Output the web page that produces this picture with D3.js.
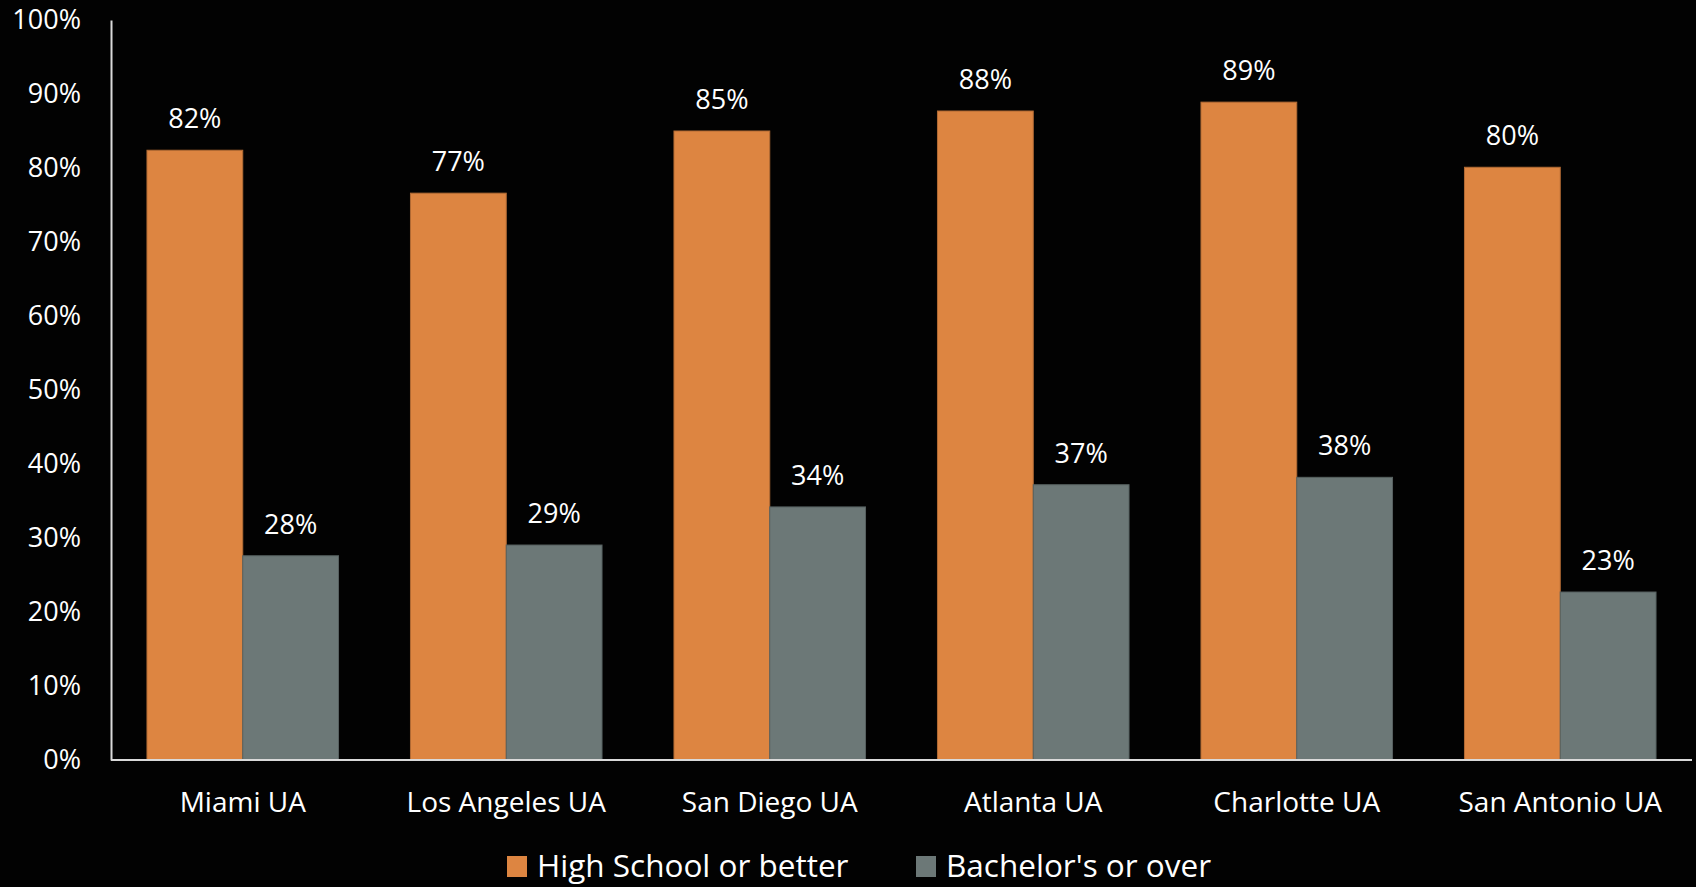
<!DOCTYPE html>
<html>
<head>
<meta charset="utf-8">
<style>
  body { margin: 0; background: #020202; }
  svg { display: block; font-family: "Open Sans", sans-serif; }
  .axis path { stroke: #d9d9d9; stroke-width: 2; }
  .axis line { display: none; }
  .axis text { fill: #fff; font-size: 27px; font-family: "Open Sans", sans-serif; }
  .xaxis text { font-size: 28px; }
</style>
</head>
<body>
<script src="https://d3js.org/d3.v7.min.js"></script>
<script>
// chart data
var cities = ["Miami UA", "Los Angeles UA", "San Diego UA", "Atlanta UA", "Charlotte UA", "San Antonio UA"];
var seriesNames = ["High School or better", "Bachelor's or over"];
var highSchool = [82.4, 76.6, 85.0, 87.7, 88.9, 80.1];
var bachelors = [27.6, 29.05, 34.2, 37.2, 38.2, 22.7];
var yTicks = [0, 10, 20, 30, 40, 50, 60, 70, 80, 90, 100];
var colors = ["#dd8541", "#6c7877"];

var W = 1696, H = 887;
var margin = {top: 20, right: 4, bottom: 127, left: 111};

var svg = d3.select("body").append("svg")
    .attr("width", W)
    .attr("height", H);

svg.append("rect").attr("width", W).attr("height", H).attr("fill", "#020202");

var x0 = d3.scaleBand()
    .domain(cities)
    .range([margin.left, W - margin.right])
    .paddingInner(0.273)
    .paddingOuter(0.1365);

var x1 = d3.scaleBand()
    .domain(seriesNames)
    .range([0, x0.bandwidth()]);

var y = d3.scaleLinear()
    .domain([0, 100])
    .range([H - margin.bottom, margin.top]);

var rows = cities.map(function(c, i) {
  return {city: c, values: [highSchool[i], bachelors[i]]};
});

// bars
var groups = svg.selectAll("g.city")
    .data(rows)
    .enter().append("g")
    .attr("class", "city")
    .attr("transform", function(d) { return "translate(" + x0(d.city) + ",0)"; });

groups.selectAll("rect")
    .data(function(d) { return d.values.map(function(v, k) { return {k: k, v: v}; }); })
    .enter().append("rect")
    .attr("x", function(d) { return x1(seriesNames[d.k]); })
    .attr("y", function(d) { return y(d.v); })
    .attr("width", x1.bandwidth())
    .attr("height", function(d) { return y(0) - y(d.v); })
    .attr("fill", function(d) { return colors[d.k]; })
    .attr("stroke", function(d) { return d3.color(colors[d.k]).darker(0.6); })
    .attr("stroke-width", 1);

// value labels
groups.selectAll("text.val")
    .data(function(d) { return d.values.map(function(v, k) { return {k: k, v: v}; }); })
    .enter().append("text")
    .attr("class", "val")
    .attr("x", function(d) { return x1(seriesNames[d.k]) + x1.bandwidth() / 2; })
    .attr("y", function(d) { return y(d.v) - 22; })
    .attr("text-anchor", "middle")
    .attr("fill", "#fff")
    .attr("font-size", 27)
    .text(function(d) { return Math.round(d.v) + "%"; });

// y axis
svg.append("g")
    .attr("class", "axis")
    .attr("transform", "translate(" + margin.left + ",0)")
    .call(d3.axisLeft(y).tickValues(yTicks).tickSize(0).tickSizeOuter(0).tickPadding(30)
      .tickFormat(function(d) { return d + "%"; }));

// x axis
var xAxis = svg.append("g")
    .attr("class", "axis xaxis")
    .attr("transform", "translate(0," + y(0) + ")")
    .call(d3.axisBottom(x0).tickSize(0).tickSizeOuter(0));
xAxis.select("path").attr("d", "M" + margin.left + ",0H" + (W - margin.right));
xAxis.selectAll("text").attr("y", 52).attr("dy", 0);

// legend
var legendX = [507, 916];
var legend = svg.selectAll("g.legend")
    .data(seriesNames)
    .enter().append("g")
    .attr("class", "legend")
    .attr("transform", function(d, i) { return "translate(" + legendX[i] + ",0)"; });

legend.append("rect")
    .attr("x", 0)
    .attr("y", 856)
    .attr("width", 20)
    .attr("height", 21)
    .attr("fill", function(d, i) { return colors[i]; });

legend.append("text")
    .attr("x", 30)
    .attr("y", 877)
    .attr("fill", "#fff")
    .attr("font-size", 31.5)
    .text(function(d) { return d; });
</script>
</body>
</html>
